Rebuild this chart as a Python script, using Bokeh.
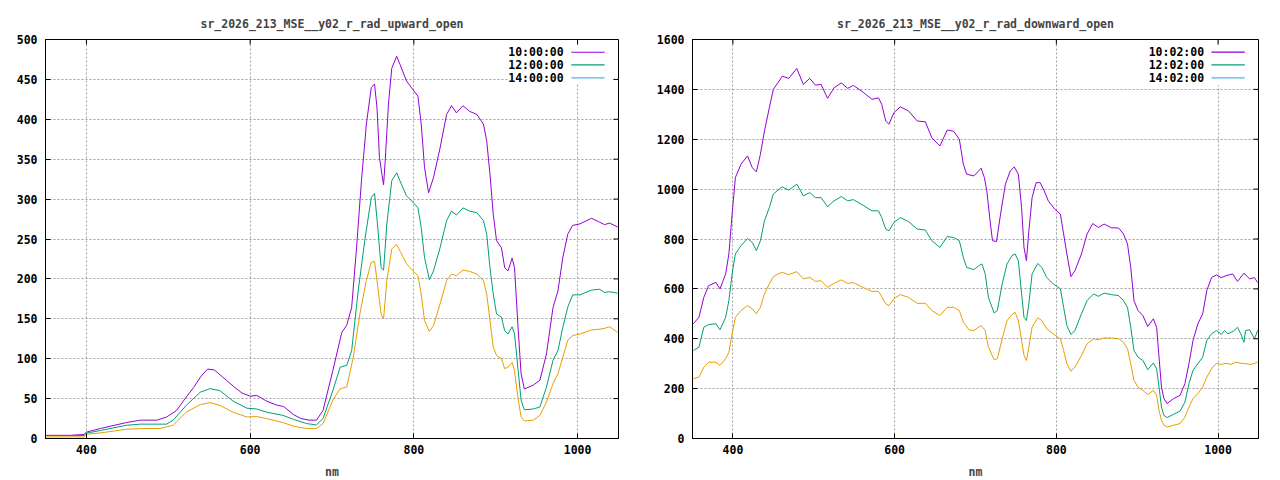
from bokeh.plotting import figure
from bokeh.layouts import row
from bokeh.models import Range1d, FixedTicker, BoxAnnotation
from bokeh.core.properties import value
from bokeh.embed import file_html
from bokeh.resources import INLINE

# ---------------- data ----------------
titles = ["sr_2026_213_MSE__y02_r_rad_upward_open", "sr_2026_213_MSE__y02_r_rad_downward_open"]
labels_up = ["10:00:00", "12:00:00", "14:00:00"]
labels_down = ["10:02:00", "12:02:00", "14:02:00"]
x_label = "nm"
x_ticks = [400, 600, 800, 1000]
y_ticks_up = [0, 50, 100, 150, 200, 250, 300, 350, 400, 450, 500]
y_ticks_down = [0, 200, 400, 600, 800, 1000, 1200, 1400, 1600]

wl_up_10 = [350, 380, 397, 400, 417, 449, 466, 486, 498, 510, 522, 531, 540, 548, 556, 563, 571, 580, 590, 600,
            608, 620, 632, 641, 653, 662, 672, 681, 689, 701, 712, 718, 724, 730, 736, 742, 748, 752, 755, 758,
            761, 763, 765, 769, 773, 779, 783, 791, 799, 805, 809, 813, 818, 824, 832, 840, 846, 852, 860, 868,
            877, 885, 889, 893, 897, 901, 907, 911, 915, 920, 923, 927, 931, 935, 946, 954, 962, 970, 976, 982,
            988, 994, 1003, 1017, 1027, 1033, 1039, 1049]
rad_up_10 = [4, 4, 5, 8, 12.5, 20, 23, 23, 27, 35, 52, 64, 78, 87, 86, 80, 73, 65, 57, 53,
             54, 47, 42, 40, 30, 25, 23, 23, 35, 85, 133, 142, 164, 239, 323, 394, 440, 444, 414, 352,
             331, 318, 348, 419, 464, 479, 469, 448, 437, 429, 394, 340, 308, 327, 364, 406, 417, 408, 417, 410,
             406, 394, 373, 331, 281, 248, 239, 214, 210, 226, 214, 144, 81, 62, 67, 73, 106, 164, 185, 227,
             256, 267, 269, 276, 271, 268, 270, 265]

wl_up_12 = [350, 397, 400, 417, 449, 466, 498, 506, 522, 539, 551, 563, 579, 596, 608, 620, 640, 653, 669, 681,
            689, 701, 710, 718, 724, 732, 740, 748, 752, 756, 760, 763, 767, 773, 779, 783, 791, 799, 805, 809,
            813, 819, 824, 832, 840, 846, 852, 860, 868, 877, 885, 889, 893, 897, 901, 907, 911, 915, 920, 923,
            927, 931, 935, 946, 954, 962, 970, 976, 982, 988, 994, 1003, 1017, 1027, 1033, 1039, 1049]
rad_up_12 = [3.7, 3.7, 6.7, 10, 16.6, 18, 18, 23, 41.6, 58, 62.5, 60, 47, 38, 37, 33, 29, 24, 18.7, 17,
             25, 60, 89.5, 91.6, 110, 185, 248, 302, 307, 264, 214, 211, 269, 323, 333, 323, 304, 296, 289, 264,
             227, 199, 210, 239, 273, 285, 280, 289, 285, 283, 273, 256, 214, 181, 156, 152, 135, 131, 140, 131,
             89.5, 48, 36, 37, 39.5, 64.5, 98, 110, 139.5, 164.5, 180, 180, 186, 187, 183, 184, 182]

wl_up_14 = [350, 397, 400, 417, 449, 466, 490, 506, 522, 539, 551, 563, 579, 596, 608, 620, 640, 653, 669, 681,
            689, 701, 710, 718, 726, 734, 742, 748, 752, 756, 760, 763, 767, 773, 779, 783, 791, 799, 805, 809,
            813, 819, 824, 832, 840, 846, 852, 860, 868, 877, 885, 889, 893, 897, 901, 907, 911, 915, 920, 923,
            927, 931, 935, 946, 954, 962, 970, 976, 982, 988, 994, 1003, 1017, 1027, 1033, 1039, 1049]
rad_up_14 = [2, 2, 5.4, 7, 11.6, 12.5, 12.5, 16.6, 33, 42.5, 45, 41.6, 33, 27, 27.5, 25, 20, 15.4, 12.5, 12.5,
             18.7, 48, 62.5, 64.5, 102, 156, 198, 221, 222, 189.5, 156, 150, 198, 237.5, 243, 235, 219, 210, 204, 181,
             148, 134, 141.6, 168.7, 198, 206, 204, 211, 209.5, 206, 198, 181, 148, 114.5, 104, 100, 87.5, 89.5, 95.4, 85,
             52, 27, 22, 23, 29, 45.7, 68.7, 81, 102, 123, 129, 131, 136, 137, 138, 140, 133]

wl_down_10 = [351, 358, 364, 370, 379, 384, 391, 395, 399, 403, 410, 418, 424, 429, 434, 439, 445, 450, 457, 461,
              469, 479, 487, 495, 502, 509, 517, 525, 534, 542, 549, 562, 572, 580, 584, 589, 593, 599, 607, 617,
              628, 638, 646, 656, 665, 673, 680, 685, 689, 698, 704, 707, 711, 714, 718, 721, 726, 731, 737, 743,
              748, 753, 757, 760, 763, 766, 770, 775, 780, 785, 790, 798, 805, 809, 813, 818, 823, 831, 838, 845,
              852, 859, 868, 877, 883, 888, 892, 896, 901, 907, 913, 920, 924, 927, 930, 933, 937, 945, 953, 959,
              964, 969, 975, 981, 986, 992, 998, 1004, 1010, 1018, 1024, 1032, 1039, 1045, 1049]
rad_down_10 = [460, 486, 566, 613, 626, 600, 660, 740, 900, 1046, 1100, 1133, 1086, 1069, 1140, 1233, 1326, 1400, 1433, 1453,
               1444, 1484, 1420, 1444, 1417, 1420, 1364, 1406, 1426, 1404, 1416, 1386, 1360, 1366, 1340, 1273, 1260, 1306, 1330, 1314,
               1273, 1270, 1206, 1173, 1237, 1232, 1200, 1100, 1060, 1053, 1073, 1084, 1046, 993, 873, 793, 790, 900, 1020, 1073,
               1089, 1060, 926, 766, 713, 833, 966, 1026, 1026, 993, 953, 920, 900, 820, 740, 649, 673, 740, 820, 862,
               846, 860, 845, 844, 820, 780, 686, 553, 513, 493, 449, 480, 446, 326, 206, 160, 140, 160, 173, 220,
               300, 393, 460, 500, 593, 646, 656, 645, 653, 660, 630, 663, 640, 645, 625]

wl_down_12 = [351, 358, 364, 370, 379, 384, 391, 395, 399, 403, 410, 418, 424, 429, 434, 439, 445, 450, 457, 461,
              469, 479, 487, 495, 502, 509, 517, 525, 534, 542, 549, 562, 572, 580, 584, 589, 593, 599, 607, 617,
              628, 638, 646, 656, 665, 673, 680, 685, 689, 698, 704, 708, 712, 716, 723, 727, 733, 739, 745, 749,
              753, 757, 760, 763, 766, 770, 777, 782, 788, 796, 805, 809, 813, 818, 823, 831, 838, 846, 852, 859,
              868, 877, 883, 888, 892, 896, 901, 907, 913, 920, 924, 927, 930, 933, 937, 945, 953, 959, 964, 969,
              975, 981, 986, 992, 998, 1004, 1008, 1012, 1019, 1024, 1028, 1032, 1034, 1039, 1045, 1049]
rad_down_12 = [353, 366, 446, 457, 460, 436, 486, 553, 660, 740, 773, 802, 786, 753, 793, 873, 926, 980, 1000, 1009,
               996, 1020, 973, 986, 966, 966, 930, 953, 970, 953, 958, 933, 913, 913, 886, 840, 833, 866, 886, 870,
               840, 836, 793, 766, 810, 806, 793, 726, 686, 677, 693, 700, 660, 566, 503, 513, 620, 700, 733, 740,
               713, 580, 486, 473, 540, 660, 702, 686, 646, 620, 600, 526, 453, 417, 433, 500, 553, 580, 570, 583,
               577, 573, 553, 526, 446, 353, 326, 313, 276, 303, 280, 206, 126, 93, 84, 97, 110, 146, 220, 273,
               300, 326, 393, 420, 433, 417, 433, 420, 430, 446, 420, 386, 433, 436, 400, 433]

wl_down_14 = [351, 358, 364, 370, 379, 384, 391, 395, 399, 403, 410, 418, 424, 429, 434, 439, 445, 450, 457, 461,
              469, 479, 487, 495, 502, 509, 517, 525, 534, 542, 549, 562, 572, 580, 584, 589, 593, 599, 607, 617,
              628, 638, 646, 656, 665, 673, 680, 685, 692, 698, 707, 712, 716, 723, 727, 733, 739, 745, 749, 753,
              757, 760, 763, 766, 770, 777, 782, 788, 796, 805, 809, 813, 818, 823, 831, 838, 846, 852, 859, 868,
              877, 883, 888, 892, 896, 901, 907, 913, 920, 924, 927, 930, 933, 937, 945, 953, 959, 964, 969, 975,
              981, 986, 992, 998, 1004, 1010, 1016, 1022, 1028, 1034, 1041, 1049]
rad_down_14 = [240, 246, 286, 306, 306, 293, 320, 346, 420, 486, 513, 533, 520, 500, 526, 580, 620, 649, 662, 666,
               657, 669, 640, 646, 630, 633, 606, 622, 636, 622, 625, 604, 590, 590, 569, 540, 533, 560, 577, 566,
               542, 542, 513, 493, 526, 526, 513, 466, 436, 433, 453, 433, 366, 316, 320, 400, 473, 497, 506, 473,
               393, 333, 313, 366, 446, 484, 473, 440, 420, 400, 353, 300, 270, 286, 333, 380, 400, 396, 403, 403,
               400, 386, 360, 300, 233, 206, 193, 176, 193, 173, 113, 73, 53, 46, 53, 60, 86, 126, 160, 180,
               206, 246, 280, 302, 297, 302, 297, 306, 302, 300, 297, 306]

line_colors = ["#9400d3", "#009e73", "#e69f00"]
key_colors = ["#9400d3", "#009e73", "#56b4e9"]

FONT = "DejaVu Sans Mono"
FS = "11.5px"
X_MIN, X_MAX = 350, 1050
FRAME_H = 399
TICK_PX = 5


def make_panel(title, series, labels, y_max, y_ticks, left_border, frame_w, right_border, key):
    p = figure(width=left_border + frame_w + right_border, height=39 + FRAME_H + 38,
               frame_width=frame_w, frame_height=FRAME_H,
               min_border_left=left_border, min_border_right=right_border,
               min_border_top=39, min_border_bottom=38,
               x_range=Range1d(X_MIN, X_MAX), y_range=Range1d(0, y_max),
               output_backend="svg", toolbar_location=None, title=title)
    p.title.align = "center"
    p.title.text_font = FONT
    p.title.text_font_size = FS
    p.title.text_font_style = "bold"
    p.title.standoff = 17
    p.background_fill_color = "white"
    p.border_fill_color = "white"
    p.outline_line_color = "black"
    p.outline_line_width = 1

    for ax in (p.xaxis[0], p.yaxis[0]):
        ax.major_label_text_font = FONT
        ax.major_label_text_font_size = FS
        ax.major_label_text_font_style = "bold"
        ax.major_label_text_color = "black"
        ax.major_tick_in = TICK_PX
        ax.major_tick_out = 0
        ax.minor_tick_in = 0
        ax.minor_tick_out = 0
        ax.axis_line_color = "black"
        ax.major_tick_line_color = "black"
    p.xaxis[0].major_label_standoff = 6
    p.yaxis[0].major_label_standoff = 8
    p.xaxis[0].ticker = FixedTicker(ticks=x_ticks)
    p.yaxis[0].ticker = FixedTicker(ticks=y_ticks)
    p.xaxis[0].axis_label = x_label
    p.xaxis[0].axis_label_text_font = FONT
    p.xaxis[0].axis_label_text_font_size = FS
    p.xaxis[0].axis_label_text_font_style = "bold"
    p.xaxis[0].axis_label_standoff = 8

    p.xgrid.ticker = FixedTicker(ticks=x_ticks)
    p.ygrid.ticker = FixedTicker(ticks=y_ticks)
    for g in (p.xgrid[0], p.ygrid[0]):
        g.grid_line_color = "#a0a0a0"
        g.grid_line_dash = "2 2"
        g.grid_line_width = 1

    for (wl, rad), c in zip(series, line_colors):
        p.line(wl, rad, line_color=c, line_width=1)

    # mirrored inward ticks on the top and right borders
    dy = TICK_PX * y_max / FRAME_H
    dx = TICK_PX * (X_MAX - X_MIN) / frame_w
    p.segment(x0=x_ticks, y0=[y_max] * len(x_ticks), x1=x_ticks, y1=[y_max - dy] * len(x_ticks),
              line_color="black", line_width=1)
    p.segment(x0=[X_MAX] * len(y_ticks), y0=y_ticks, x1=[X_MAX - dx] * len(y_ticks), y1=y_ticks,
              line_color="black", line_width=1)

    # key (gnuplot style: text then sample line, on a white box)
    kx_text, kx0, kx1, ky, bx = key
    p.add_layout(BoxAnnotation(left=bx[0], right=bx[1], top=bx[2], bottom=bx[3],
                               fill_color="white", fill_alpha=1, line_color=None, level="underlay"))
    p.text(x=[kx_text] * 3, y=ky, text=labels, text_font=value(FONT), text_font_size=FS,
           text_font_style="bold", text_align="right", text_baseline="middle", text_color="black")
    p.segment(x0=[kx0] * 3, y0=ky, x1=[kx1] * 3, y1=ky, line_color=key_colors, line_width=1.2)
    return p


p1 = make_panel(titles[0],
                [(wl_up_10, rad_up_10), (wl_up_12, rad_up_12), (wl_up_14, rad_up_14)],
                labels_up, 500, y_ticks_up, 45, 573, 22,
                (983, 992.4, 1033, [484, 468.3, 452], (914.7, 1041.6, 492.9, 444.1)))
p2 = make_panel(titles[1],
                [(wl_down_10, rad_down_10), (wl_down_12, rad_down_12), (wl_down_14, rad_down_14)],
                labels_down, 1600, y_ticks_down, 52, 566, 18,
                (982.7, 991.8, 1033, [1549, 1498, 1446], (913.2, 1042, 1577, 1417)))

layout = row(p1, p2, spacing=0)
open("out.html", "w").write(file_html(layout, INLINE))
